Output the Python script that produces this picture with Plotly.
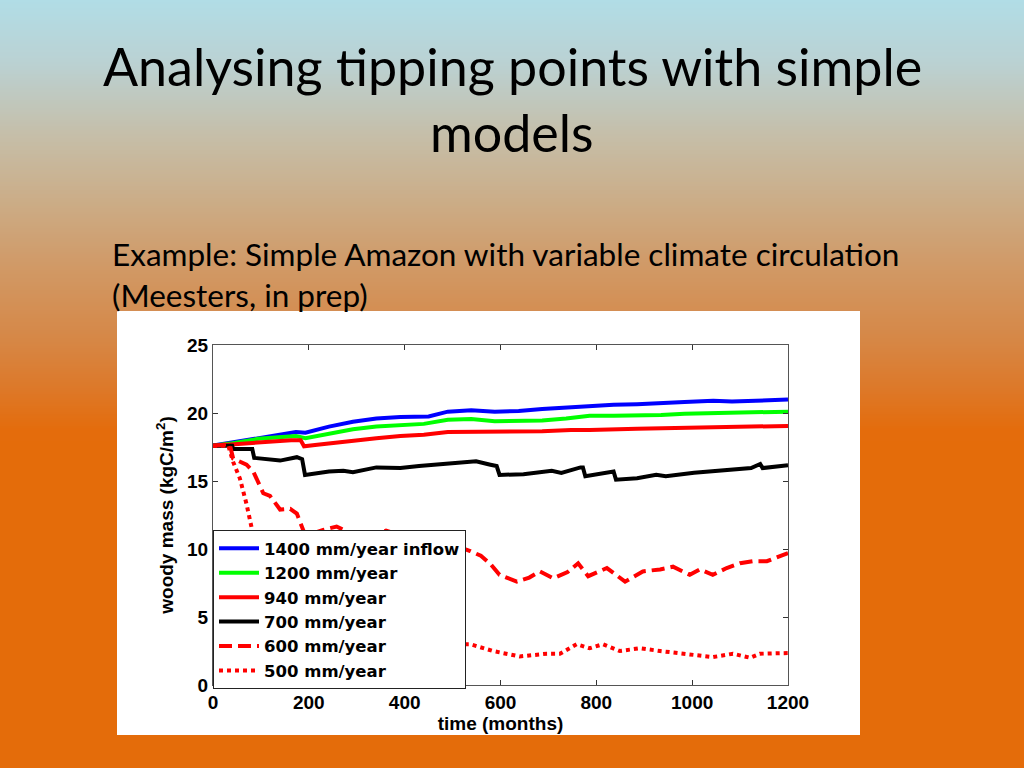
import plotly.graph_objects as go

# ---------------- data ----------------
months_1400 = [0, 35, 94, 173, 193, 242, 292, 341, 391, 450, 490, 539, 588, 638, 687, 737, 786, 836, 885, 935, 984, 1044, 1083, 1133, 1200]
mass_1400 = [17.6, 17.8, 18.2, 18.6, 18.55, 19.0, 19.35, 19.6, 19.7, 19.75, 20.1, 20.2, 20.1, 20.15, 20.3, 20.4, 20.55, 20.6, 20.65, 20.7, 20.8, 20.9, 20.85, 20.9, 21.0]

months_1200 = [0, 35, 94, 173, 193, 242, 292, 341, 391, 440, 490, 539, 588, 638, 687, 737, 786, 836, 885, 935, 984, 1083, 1200]
mass_1200 = [17.6, 17.75, 18.1, 18.3, 18.15, 18.5, 18.8, 19.0, 19.1, 19.2, 19.5, 19.55, 19.4, 19.4, 19.45, 19.6, 19.8, 19.8, 19.8, 19.85, 19.95, 20.0, 20.1]

months_940 = [0, 94, 163, 183, 190, 213, 272, 341, 391, 440, 490, 588, 687, 747, 786, 885, 984, 1083, 1200]
mass_940 = [17.6, 17.85, 18.0, 18.0, 17.55, 17.65, 17.9, 18.15, 18.3, 18.4, 18.6, 18.6, 18.65, 18.75, 18.75, 18.85, 18.9, 18.95, 19.05]

months_700 = [0, 40, 42, 82, 86, 136, 140, 175, 186, 192, 242, 272, 292, 341, 391, 430, 490, 549, 579, 592, 598, 648, 707, 727, 767, 772, 777, 826, 836, 841, 885, 925, 945, 1004, 1063, 1123, 1142, 1147, 1200]
mass_700 = [17.6, 17.6, 17.35, 17.35, 16.7, 16.5, 16.5, 16.75, 16.6, 15.45, 15.7, 15.75, 15.65, 16.0, 15.95, 16.1, 16.3, 16.45, 16.2, 16.1, 15.45, 15.5, 15.75, 15.6, 16.0, 16.0, 15.35, 15.65, 15.7, 15.1, 15.2, 15.45, 15.35, 15.6, 15.75, 15.95, 16.25, 15.95, 16.15]

months_600 = [0, 35, 42, 70, 84, 105, 119, 140, 161, 175, 192, 205, 230, 258, 290, 330, 361, 400, 450, 500, 537, 559, 579, 598, 634, 660, 682, 710, 740, 762, 783, 822, 860, 897, 933, 960, 995, 1016, 1043, 1072, 1100, 1127, 1156, 1200]
mass_600 = [17.6, 17.7, 16.65, 16.2, 15.7, 14.1, 13.9, 12.9, 12.95, 12.6, 11.05, 11.1, 11.4, 11.65, 11.1, 11.0, 11.35, 10.9, 10.6, 10.3, 9.85, 9.5, 8.9, 8.1, 7.6, 7.9, 8.35, 7.85, 8.3, 8.95, 8.0, 8.6, 7.6, 8.35, 8.5, 8.7, 8.1, 8.5, 8.1, 8.6, 8.95, 9.1, 9.1, 9.7]

months_500 = [0, 32, 42, 56, 70, 81, 110, 160, 220, 300, 400, 500, 537, 584, 640, 697, 724, 759, 786, 814, 849, 891, 933, 989, 1043, 1085, 1121, 1141, 1200]
mass_500 = [17.6, 17.6, 16.4, 15.2, 13.3, 11.5, 9.0, 6.2, 4.6, 3.8, 3.3, 3.0, 3.0, 2.5, 2.1, 2.3, 2.3, 3.0, 2.7, 3.0, 2.5, 2.7, 2.5, 2.3, 2.05, 2.3, 2.0, 2.3, 2.35]

series_names = ["1400 mm/year inflow", "1200 mm/year", "940 mm/year",
                "700 mm/year", "600 mm/year", "500 mm/year"]
x_ticks = [0, 200, 400, 600, 800, 1000, 1200]
y_ticks = [0, 5, 10, 15, 20, 25]

# ---------------- figure ----------------
W, H = 1024, 768
fig = go.Figure()

styles = [
    ("#0000FF", "solid"),
    ("#00FF00", "solid"),
    ("#FF0000", "solid"),
    ("#000000", "solid"),
    ("#FF0000", "13px,6px"),
    ("#FF0000", "4px,4px"),
]
data = [(months_1400, mass_1400), (months_1200, mass_1200), (months_940, mass_940),
        (months_700, mass_700), (months_600, mass_600), (months_500, mass_500)]

for name, (xs, ys), (col, dash) in zip(series_names, data, styles):
    fig.add_trace(go.Scatter(x=xs, y=ys, mode="lines", name=name,
                             line=dict(color=col, width=4, dash=dash)))

# background gradient (decoration)
stops = [(0, (177, 221, 230)), (60, (186, 210, 212)), (140, (198, 189, 166)),
         (200, (203, 173, 136)), (260, (208, 155, 105)), (340, (214, 135, 70)),
         (390, (221, 120, 40)), (430, (228, 108, 12)), (768, (228, 108, 10))]

def col_at(py):
    for (a, ca), (b, cb) in zip(stops[:-1], stops[1:]):
        if a <= py <= b:
            t = (py - a) / (b - a)
            return tuple(int(round(ca[i] + (cb[i] - ca[i]) * t)) for i in range(3))
    return stops[-1][1]

shapes = []
step = 2
for py in range(0, 440, step):
    c = col_at(py + step / 2)
    shapes.append(dict(type="rect", xref="paper", yref="paper", layer="below",
                       x0=0, x1=1, y0=1 - (py + step + 0.5) / H, y1=1 - py / H,
                       line=dict(width=0), fillcolor="rgb(%d,%d,%d)" % c))
# white figure panel
shapes.append(dict(type="rect", xref="paper", yref="paper", layer="below",
                   x0=117 / W, x1=860 / W, y0=1 - 735 / H, y1=1 - 311 / H,
                   line=dict(width=0), fillcolor="white"))

title_font = dict(family="Lato", size=52, color="black")
sub_font = dict(family="Lato", size=31.5, color="black")
annotations = [
    dict(text="Analysing tipping points with simple", x=512 / W, y=1 - 66 / H,
         xref="paper", yref="paper", showarrow=False, xanchor="center", yanchor="middle", font=title_font),
    dict(text="models", x=512 / W, y=1 - 132 / H,
         xref="paper", yref="paper", showarrow=False, xanchor="center", yanchor="middle", font=title_font),
    dict(text="Example: Simple Amazon with variable climate circulation", x=110 / W, y=1 - 254 / H,
         xref="paper", yref="paper", showarrow=False, xanchor="left", yanchor="middle", font=sub_font),
    dict(text="(Meesters, in prep)", x=110 / W, y=1 - 295 / H,
         xref="paper", yref="paper", showarrow=False, xanchor="left", yanchor="middle", font=sub_font),
]

bold19 = dict(family="Liberation Sans", size=19, color="black", weight="bold")
fig.update_layout(
    width=W, height=H,
    margin=dict(l=0, r=0, t=0, b=0, pad=0, autoexpand=False),
    paper_bgcolor="rgb(228,108,10)",
    plot_bgcolor="white",
    shapes=shapes,
    annotations=annotations,
    showlegend=True,
    legend=dict(x=213 / W, y=1 - 530 / H, xanchor="left", yanchor="top",
                bgcolor="white", bordercolor="#222", borderwidth=1,
                font=dict(family="DejaVu Sans", size=16.5, color="black", weight="bold"),
                tracegroupgap=0, itemwidth=40),
    xaxis=dict(domain=[213 / W, 788 / W], range=[0, 1200], tickvals=x_ticks,
               ticks="inside", ticklen=5, tickcolor="#333", showgrid=False, zeroline=False,
               showline=True, linecolor="#555", linewidth=1, mirror="ticks",
               tickfont=bold19,
               title=dict(text="time (months)", font=bold19, standoff=2)),
    yaxis=dict(domain=[1 - 685 / H, 1 - 345 / H], range=[0, 25], tickvals=y_ticks,
               ticks="inside", ticklen=5, tickcolor="#333", showgrid=False, zeroline=False,
               showline=True, linecolor="#555", linewidth=1, mirror="ticks",
               tickfont=bold19,
               title=dict(text="woody mass (kgC/m<sup>2</sup>)", font=bold19, standoff=8)),
)

fig.write_html("out.html", config={"displayModeBar": False},
               post_script="document.body.style.margin='0';document.body.style.overflow='hidden';")
